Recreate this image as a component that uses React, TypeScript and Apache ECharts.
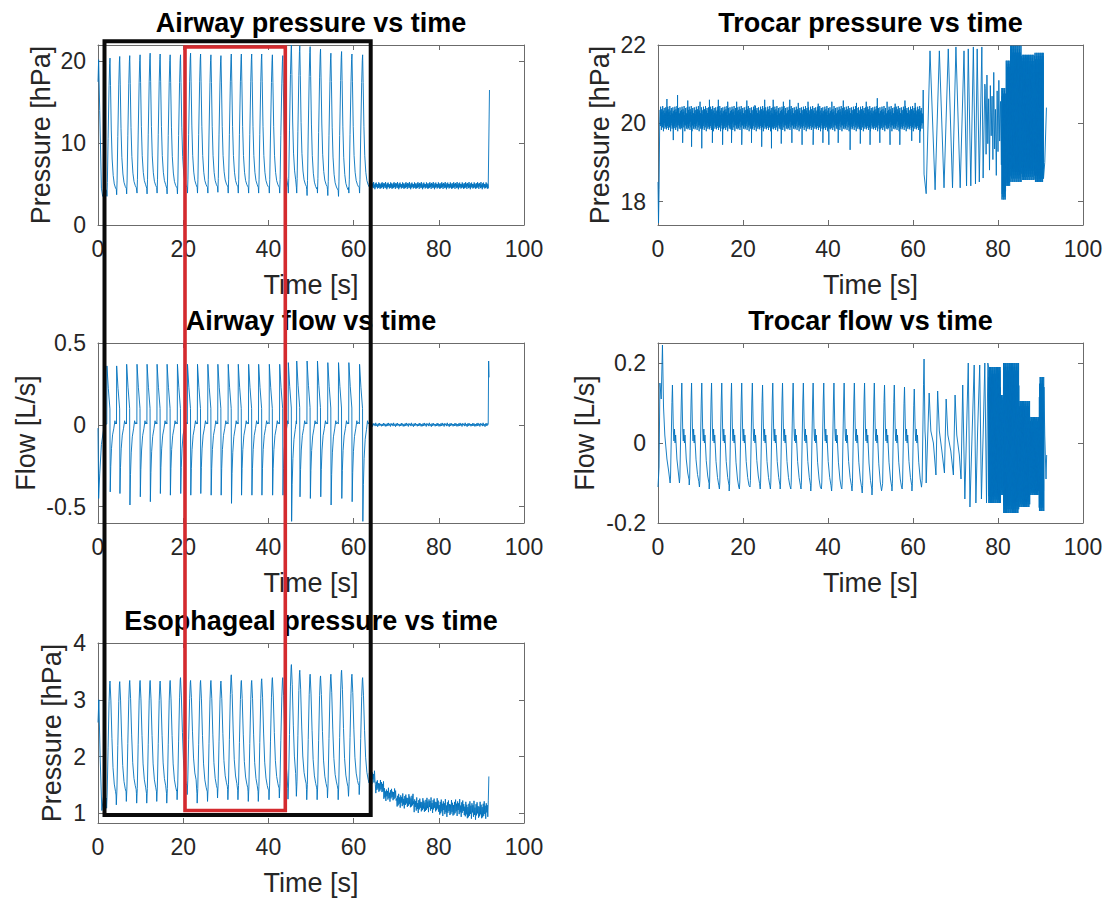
import React, { useEffect, useRef } from "react";
import * as echarts from "echarts";

type Pt = [number, number];

// ---------------- DATA ----------------
const xTicks = [0, 20, 40, 60, 80, 100];

// end-of-inspiration times (airway pressure peaks), one per breath [s]
const breathTimes = [2.82, 5.1, 7.45, 9.88, 12.24, 14.59, 16.94, 19.37, 21.73, 24.08, 26.51, 28.86, 31.29,
  33.65, 36.08, 38.43, 40.94, 43.37, 45.4, 47.37, 49.8, 52.24, 54.67, 57.18, 59.61, 62.12];

// Airway pressure [hPa]
const pawPeak = [20.4, 20.6, 20.7, 20.8, 21.0, 20.9, 20.8, 20.8, 21.0, 20.9, 20.8, 20.7, 20.9,
  20.9, 20.9, 20.9, 20.8, 20.7, 22.0, 21.9, 21.8, 21.5, 21.0, 21.2, 20.9, 20.8];
const pawDip = [3.5, 3.7, 3.8, 3.9, 3.8, 3.9, 3.8, 3.8, 3.9, 3.9, 3.9, 4.0, 3.9,
  3.9, 3.9, 3.9, 3.9, 3.9, 3.9, 3.9, 3.6, 3.9, 3.6, 3.5, 3.9, 3.9];
const pawStart: Pt[] = [[0, 17.5], [0.15, 20.2], [0.4, 14], [0.8, 4.5], [1.1, 3.5], [1.5, 4.2], [1.9, 4.3]];
const pawTail = [[63.7, 91.6, 5.25, 4.35]]; // [from, to, high, low]
const pawEnd: Pt[] = [[91.9, 16.5]];

// Airway flow [L/s]
const flowPeak = [0.36, 0.36, 0.37, 0.37, 0.37, 0.37, 0.37, 0.37, 0.37, 0.37, 0.37, 0.37, 0.37,
  0.37, 0.37, 0.37, 0.37, 0.37, 0.38, 0.39, 0.39, 0.39, 0.38, 0.38, 0.38, 0.37];
const flowTrough = [-0.41, -0.42, -0.49, -0.44, -0.47, -0.42, -0.43, -0.42, -0.43, -0.42, -0.43, -0.43, -0.48,
  -0.43, -0.43, -0.43, -0.43, -0.43, -0.59, -0.44, -0.45, -0.44, -0.49, -0.45, -0.47, -0.59];
const flowStart: Pt[] = [[0, -0.02], [0.15, -0.45], [0.4, -0.3], [0.8, -0.12], [1.3, -0.03], [1.8, 0.0]];
const flowTail = [[63.7, 91.6, 0.012, -0.012]];
const flowEnd: Pt[] = [[91.7, 0.39], [91.8, 0.29]];

// Esophageal pressure [hPa]
const esoPeak = [3.33, 3.32, 3.34, 3.34, 3.34, 3.33, 3.34, 3.39, 3.34, 3.34, 3.34, 3.33, 3.44,
  3.34, 3.34, 3.37, 3.39, 3.39, 3.62, 3.52, 3.45, 3.42, 3.45, 3.52, 3.45, 3.39];
const esoDip = [1.09, 1.15, 1.21, 1.18, 1.18, 1.21, 1.18, 1.24, 1.33, 1.18, 1.21, 1.27, 1.24,
  1.24, 1.21, 1.21, 1.24, 1.27, 1.25, 1.3, 1.24, 1.24, 1.27, 1.24, 1.3, 1.33];
const esoStart: Pt[] = [[0, 2.6], [0.2, 3.0], [0.5, 2.0], [0.9, 1.05], [1.3, 1.3], [1.8, 1.25]];
const esoTail = [[63.7, 65, 1.75, 1.5], [65.1, 67, 1.6, 1.35], [67.1, 70, 1.45, 1.2], [70.1, 74, 1.35, 1.08],
  [74.1, 80, 1.28, 1.0], [80.1, 86, 1.25, 0.93], [86.1, 91.6, 1.22, 0.88]];
const esoEnd: Pt[] = [[91.75, 1.65]];

// Trocar pressure [hPa]
const tpStart: Pt[] = [[0, 18.5], [0.12, 17.45], [0.25, 18.3], [0.4, 20.0]];
const tpBand = [[0.5, 62.2, 20.44, 19.78]];
const tpUpT = [2.1, 4.6, 7.0, 9.9, 12.1, 14.2, 16.4, 18.5, 20.9, 22.8, 25.1, 27.1, 29.5, 31.0, 33.0, 35.3,
  37.7, 40.9, 43.6, 46.7, 49.0, 51.6, 53.9, 55.8, 58.1, 60.5];
const tpUpV = [20.62, 20.72, 20.58, 20.55, 20.6, 20.6, 20.55, 20.55, 20.58, 20.46, 20.6, 20.6, 20.55, 20.6,
  20.52, 20.55, 20.5, 20.55, 20.58, 20.52, 20.55, 20.64, 20.55, 20.5, 20.58, 20.52];
const tpDownT = [3.6, 5.8, 7.9, 10.3, 12.8, 15.2, 17.3, 19.7, 22.0, 24.4, 26.7, 29.0, 31.5, 33.9, 36.5, 38.8,
  40.2, 42.4, 45.2, 47.6, 49.9, 52.2, 54.6, 56.9, 59.7, 61.6];
const tpDownV = [19.57, 19.5, 19.4, 19.36, 19.5, 19.45, 19.5, 19.45, 19.5, 19.4, 19.36, 19.48, 19.5, 19.45,
  19.45, 19.5, 19.45, 19.5, 19.32, 19.48, 19.45, 19.5, 19.45, 19.45, 19.55, 19.5];
const tpSwing: Pt[] = [[62.3, 20.0], [62.4, 20.85], [62.6, 18.7], [63.1, 18.2], [64.0, 21.85], [65.2, 18.3],
  [66.2, 21.85], [67.3, 18.35], [68.3, 21.9], [69.3, 18.35], [70.1, 21.95], [71.1, 18.35], [72.0, 21.85],
  [72.6, 18.4], [73.0, 21.9], [73.6, 18.4], [74.2, 21.95], [74.7, 18.45], [75.1, 21.9], [75.6, 18.5],
  [76.2, 21.95], [76.5, 18.6], [76.9, 21.0]];
const tpBurst = [[77.0, 80.7, 21.3, 18.6]];
const tpDense = [[80.9, 81.8, 20.9, 18.05], [81.9, 82.8, 21.6, 18.4], [82.9, 85.5, 21.98, 18.5],
  [85.6, 88.5, 21.75, 18.55], [88.6, 90.7, 21.8, 18.5]];
const tpEnd: Pt[] = [[91.0, 19.0], [91.4, 20.4]];

// Trocar flow [L/s]
const tfTimes = [3.4, 5.6, 7.9, 10.3, 12.6, 15.0, 17.3, 19.7, 22.2, 24.6, 27.0, 29.3, 31.8,
  34.2, 36.5, 39.0, 41.4, 43.8, 46.2, 48.6, 50.9, 53.3, 55.6, 58.0, 60.3, 62.6];
const tfPeak = [0.145, 0.15, 0.15, 0.15, 0.15, 0.15, 0.15, 0.15, 0.15, 0.145, 0.15, 0.15, 0.15,
  0.15, 0.15, 0.15, 0.15, 0.15, 0.15, 0.15, 0.15, 0.145, 0.145, 0.14, 0.135, 0.21];
const tfTrough = [-0.1, -0.1, -0.105, -0.11, -0.115, -0.115, -0.12, -0.115, -0.11, -0.115, -0.115, -0.115, -0.115,
  -0.115, -0.12, -0.115, -0.12, -0.115, -0.12, -0.125, -0.13, -0.12, -0.12, -0.115, -0.12, -0.11];
const tfStart: Pt[] = [[0, -0.11], [0.25, -0.06], [0.45, 0.15], [0.75, 0.11], [1.05, 0.245], [1.3, 0.09],
  [1.6, 0.02], [2.1, -0.04], [2.5, -0.07]];
const tfTail: Pt[] = [[63.1, -0.1], [63.8, 0.125], [64.2, 0.03], [64.8, 0.0], [65.4, -0.08], [65.8, 0.13],
  [66.2, 0.03], [66.8, -0.02], [67.4, -0.075], [67.8, 0.11], [68.2, 0.02], [68.9, -0.02], [69.5, -0.08],
  [69.9, 0.12], [70.3, 0.02], [70.9, -0.03], [71.3, -0.09], [71.7, 0.145], [72.2, -0.14], [72.6, 0.03],
  [73.0, 0.2], [73.4, -0.16], [73.9, 0.02], [74.4, 0.195], [74.8, -0.15], [75.2, 0.03], [75.7, 0.195],
  [76.1, -0.14], [76.5, 0.02], [76.9, 0.2], [77.3, -0.15], [77.6, 0.2]];
const tfDense = [[77.8, 80.6, 0.19, -0.15], [80.7, 81.2, 0.12, -0.13], [81.3, 84.9, 0.2, -0.175],
  [85.0, 87.5, 0.105, -0.16], [87.6, 89.6, 0.065, -0.13], [89.7, 90.8, 0.165, -0.17]];
const tfEnd: Pt[] = [[91.0, 0.02], [91.3, -0.09], [91.45, -0.03]];

// ---------------- waveform shapes (time offset, weights) ----------------
const PAW_SHAPE = [[-0.8, 0.04], [-0.72, 0], [-0.62, 0.1], [-0.45, 0.42], [-0.22, 0.8], [-0.08, 0.96], [0, 1],
  [0.12, 0.8], [0.3, 0.48], [0.5, 0.27], [0.75, 0.15], [1.0, 0.09], [1.3, 0.06], [1.55, 0.045]];
const ESO_SHAPE = [[-0.86, 0.08], [-0.8, 0], [-0.66, 0.12], [-0.45, 0.48], [-0.22, 0.84], [-0.07, 0.98], [0, 1],
  [0.2, 0.85], [0.45, 0.55], [0.7, 0.32], [1.0, 0.19], [1.3, 0.13], [1.5, 0.1]];
const FLOW_SHAPE = [[-0.76, 0, 0, 0.005], [-0.72, 1, 0, 0], [-0.4, 0.62, 0, 0], [-0.02, 0.27, 0, 0],
  [0.05, 0, 1, 0], [0.18, 0, 0.62, 0], [0.35, 0, 0.35, 0], [0.6, 0, 0.15, 0], [0.9, 0, 0.05, 0],
  [1.15, 0, 0, 0.025], [1.3, 0, 0, 0.005], [1.5, 0, 0, 0.015]];
const TF_SHAPE = [[-0.55, 0, 1, 0], [-0.45, 0, 0.85, 0], [-0.12, 0.7, 0, 0], [0, 1, 0, 0], [0.22, 0, 0, 0.03],
  [0.35, 0, 0, 0.005], [0.48, 0, 0, 0.035], [0.62, 0, 0, 0], [0.75, 0, 0, 0.02], [1.05, 0, 0.4, 0],
  [1.4, 0, 0.75, 0], [1.7, 0, 0.92, 0]];
const NOISE = [0.7, -0.55, 0.95, -0.35, 0.5, -0.85, 0.75, -0.2, 0.55, -0.65, 1.0, -0.45, 0.3, -0.95,
  0.65, -0.5, 0.85, -0.3, 0.45, -0.75, 0.4, -0.6, 0.9, -0.4, 0.6, -0.8, 0.35, -0.7];
const FULL = [1, -1, 0.85, -0.9, 0.95, -0.8, 1, -0.95, 0.7, -1, 0.9, -0.85, 0.6, -0.7];

function shapeCycles(times: number[], shape: number[][], val: (r: number[], i: number) => number, until = Infinity): Pt[] {
  const out: Pt[] = [];
  for (let i = 0; i < times.length; i++) {
    const next = i + 1 < times.length ? times[i + 1] + shape[0][0] : until;
    for (const r of shape) {
      const t = times[i] + r[0];
      if (t >= next - 0.01) break;
      out.push([t, val(r, i)]);
    }
  }
  return out;
}
function band(segs: number[][], step: number, pattern: number[]): Pt[] {
  const out: Pt[] = [];
  let k = 0;
  for (const [t0, t1, hi, lo] of segs) {
    const mid = (hi + lo) / 2, half = (hi - lo) / 2;
    const n = Math.round((t1 - t0) / step);
    for (let j = 0; j <= n; j++) {
      out.push([t0 + j * step, mid + pattern[k % pattern.length] * half]);
      k++;
    }
  }
  return out;
}
const pairs = (t: number[], v: number[]): Pt[] => t.map((x, i) => [x, v[i]]);
const merge = (...parts: Pt[][]): Pt[] => parts.flat().sort((a, b) => a[0] - b[0]);

const pawData = merge(pawStart,
  shapeCycles(breathTimes, PAW_SHAPE, (r, i) => pawDip[i] + r[1] * (pawPeak[i] - pawDip[i])),
  band(pawTail, 0.1, NOISE), pawEnd);
const flowData = merge(flowStart,
  shapeCycles(breathTimes, FLOW_SHAPE, (r, i) => r[1] * flowPeak[i] + r[2] * flowTrough[i] + r[3]),
  band(flowTail, 0.15, NOISE), flowEnd);
const esoData = merge(esoStart,
  shapeCycles(breathTimes, ESO_SHAPE, (r, i) => esoDip[i] + r[1] * (esoPeak[i] - esoDip[i])),
  band(esoTail, 0.12, NOISE), esoEnd);
const tpData = merge(tpStart, band(tpBand, 0.06, NOISE), pairs(tpUpT, tpUpV), pairs(tpDownT, tpDownV),
  tpSwing, band(tpBurst, 0.2, NOISE), band(tpDense, 0.035, FULL), tpEnd);
const tfData = merge(tfStart,
  shapeCycles(tfTimes, TF_SHAPE, (r, i) => r[1] * tfPeak[i] + r[2] * tfTrough[i] + r[3], 63.05),
  tfTail, band(tfDense, 0.03, FULL), tfEnd);

// ---------------- layout ----------------
const FONT = "'Liberation Sans', Arial, Helvetica, sans-serif";
const LINE = "#0072BD";
const AXIS = "#6b6b6b";
const TXT = "#262626";

const grids = [
  { left: 98, top: 45, width: 426, height: 180 },
  { left: 658, top: 45, width: 425, height: 180 },
  { left: 98, top: 343, width: 426, height: 180 },
  { left: 658, top: 343, width: 425, height: 180 },
  { left: 98, top: 643, width: 426, height: 180 },
];
const yRanges = [[0, 22.0], [17.4, 22.0], [-0.6, 0.5], [-0.2, 0.25], [0.83, 4.0]];
const yTicks = [[0, 10, 20], [18, 20, 22], [-0.5, 0, 0.5], [-0.2, 0, 0.2], [1, 2, 3, 4]];
const titles = ["Airway pressure vs time", "Trocar pressure vs time", "Airway flow vs time",
  "Trocar flow vs time", "Esophageal pressure vs time"];
const yNames = ["Pressure [hPa]", "Pressure [hPa]", "Flow [L/s]", "Flow [L/s]", "Pressure [hPa]"];
const yNameX = [41, 600, 26, 585, 52];
const seriesData = [pawData, tpData, flowData, tfData, esoData];

export default function App() {
  const ref = useRef<HTMLDivElement>(null);
  useEffect(() => {
    if (!ref.current) return;
    const chart = echarts.init(ref.current, undefined, { renderer: "svg" });
    const xAxis: any[] = [];
    const yAxis: any[] = [];
    const graphic: any[] = [];
    grids.forEach((g, i) => {
      const common = {
        gridIndex: i, type: "value", splitLine: { show: false },
        axisLine: { show: true, onZero: false, lineStyle: { color: AXIS, width: 1 } },
      };
      xAxis.push({
        ...common, position: "bottom", min: 0, max: 100,
        axisTick: { inside: true, length: 5, customValues: xTicks, lineStyle: { color: AXIS } },
        axisLabel: { customValues: xTicks, fontSize: 23, color: TXT, fontFamily: FONT, margin: 12 },
      });
      xAxis.push({
        ...common, position: "top", min: 0, max: 100,
        axisTick: { inside: true, length: 5, customValues: xTicks, lineStyle: { color: AXIS } },
        axisLabel: { show: false },
      });
      yAxis.push({
        ...common, position: "left", min: yRanges[i][0], max: yRanges[i][1],
        axisTick: { inside: true, length: 5, customValues: yTicks[i], lineStyle: { color: AXIS } },
        axisLabel: { customValues: yTicks[i], fontSize: 23, color: TXT, fontFamily: FONT, margin: 12 },
      });
      yAxis.push({
        ...common, position: "right", min: yRanges[i][0], max: yRanges[i][1],
        axisTick: { inside: true, length: 5, customValues: yTicks[i], lineStyle: { color: AXIS } },
        axisLabel: { show: false },
      });
      const cx = g.left + g.width / 2;
      graphic.push({
        type: "text", x: cx, y: g.top - 22,
        style: { text: titles[i], font: `bold 27px ${FONT}`, fill: "#000", align: "center", verticalAlign: "middle" },
      });
      graphic.push({
        type: "text", x: cx, y: g.top + g.height + 60,
        style: { text: "Time [s]", font: `27px ${FONT}`, fill: TXT, align: "center", verticalAlign: "middle" },
      });
      graphic.push({
        type: "text", x: yNameX[i], y: g.top + g.height / 2, rotation: Math.PI / 2,
        style: { text: yNames[i], font: `27px ${FONT}`, fill: TXT, align: "center", verticalAlign: "middle" },
      });
    });
    // highlighted time windows (annotation boxes)
    graphic.push({
      type: "rect", z: 100, shape: { x: 104.5, y: 41.3, width: 266.2, height: 773.7 },
      style: { fill: "none", stroke: "#0a0a0a", lineWidth: 4 },
    });
    graphic.push({
      type: "rect", z: 101, shape: { x: 185, y: 47, width: 100.3, height: 763.5 },
      style: { fill: "none", stroke: "#d42a2e", lineWidth: 3.6 },
    });

    chart.setOption({
      animation: false,
      backgroundColor: "#ffffff",
      grid: grids.map((g) => ({ ...g, containLabel: false })),
      xAxis,
      yAxis,
      series: seriesData.map((d, i) => ({
        type: "line", xAxisIndex: 2 * i, yAxisIndex: 2 * i, data: d, showSymbol: false, symbol: "none",
        clip: true, lineStyle: { color: LINE, width: 0.9 }, z: 2,
      })),
      graphic,
    });
    return () => chart.dispose();
  }, []);
  return (
    <div
      ref={ref}
      style={{ position: "absolute", left: 0, top: 0, width: 1109, height: 900, background: "#fff" }}
    />
  );
}
